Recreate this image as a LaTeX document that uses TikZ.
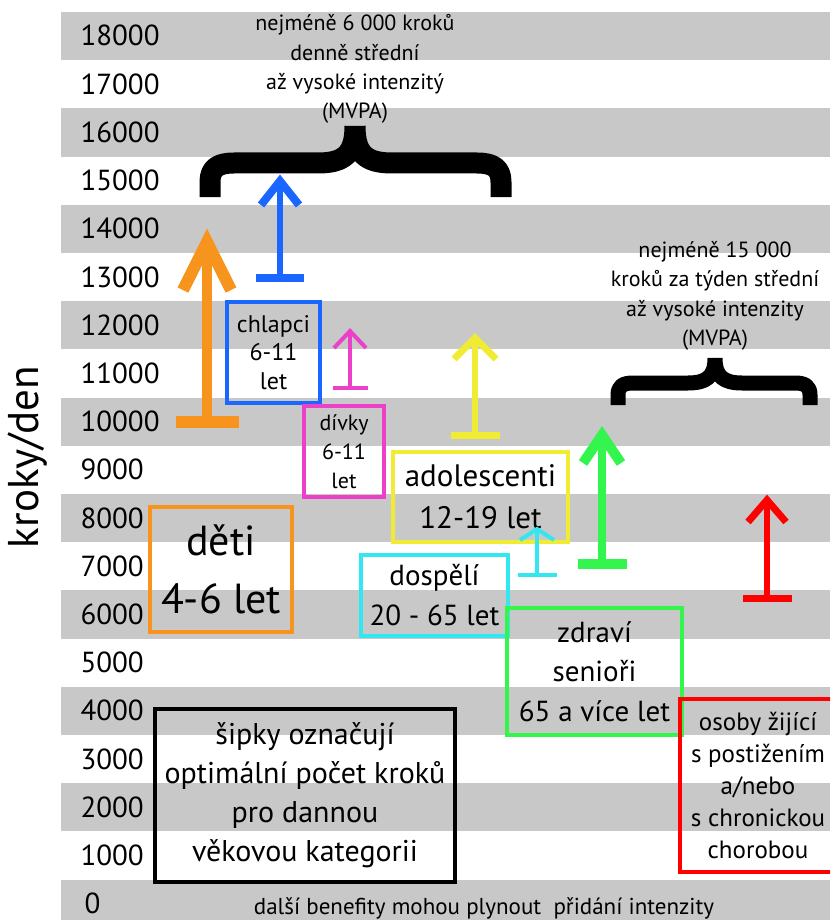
\documentclass[tikz,border=0pt]{standalone}
\usepackage{fontspec}
\setmainfont{PT Sans}
\usetikzlibrary{calc}
\definecolor{stripe}{RGB}{200,200,200}
\definecolor{korange}{RGB}{247,148,29}
\definecolor{kblue}{RGB}{26,102,255}
\definecolor{kmagenta}{RGB}{236,64,200}
\definecolor{kyellow}{RGB}{240,235,51}
\definecolor{kcyan}{RGB}{51,230,240}
\definecolor{kgreen}{RGB}{51,245,77}
\definecolor{kred}{RGB}{255,0,0}
\tikzstyle{group} = [rectangle, draw, line width=4pt, align=center, inner sep=0pt]
\tikzstyle{scale label} = [anchor=base west, font=\fontsize{29}{34}\selectfont]
\tikzstyle{note} = [align=center, font=\fontsize{22}{29.3}\selectfont]
\tikzstyle{brace} = [line width=21pt, line cap=butt, line join=round]
\newcommand{\bandh}{48.2}
% colour, x, bar y, tip y, bar half width, wing dx, wing dy, width
\newcommand{\stepgoal}[8]{%
  \draw[#1, line width=#8pt] (#2-#5,#3) -- (#2+#5,#3);
  \draw[#1, line width=0.85*#8pt] (#2,#3) -- (#2,#4);
  \draw[#1, line width=#8pt, miter limit=20] (#2-#6,#4+#7) -- (#2,#4) -- (#2+#6,#4+#7);
}

\begin{document}
\begin{tikzpicture}[x=1pt, y=-1pt]
  \useasboundingbox (0,0) rectangle (830,920);
  \clip (0,0) rectangle (830,920);

  % stripes and scale
  \foreach \i in {0,...,18} {
    \pgfmathtruncatemacro{\k}{18-\i}
    \ifodd\i\else
      \fill[stripe] (61,12+\bandh*\i) rectangle (830,12+\bandh*\i+\bandh);
    \fi
    \node[scale label] (lab\i) at (77,46+\bandh*\i) {\ifnum\k=0 \hspace{4pt}0\else\k000\fi};
  }

  \node[rotate=90, font=\fontsize{43}{50}\selectfont] (axis) at (28,457) {kroky/den};

  % braces with notes
  \draw[brace] (210,197) -- (210,182) .. controls (210,168) and (218,163) .. (234,163) -- (318,163) .. controls (344,163) and (355,154) .. (355,126)
               (501,197) -- (501,182) .. controls (501,168) and (493,163) .. (477,163) -- (392,163) .. controls (366,163) and (355,154) .. (355,126);
  \node[note] (daily) at (355,69) {nejméně 6 000 kroků\\denně střední\\až vysoké intenzitý\\(MVPA)};

  \draw[brace, line width=15pt] (618,405) -- (618,395) .. controls (618,386) and (623,383) .. (633,383) -- (688,383) .. controls (706,383) and (715,377) .. (715,358)
               (810,405) -- (810,395) .. controls (810,386) and (805,383) .. (795,383) -- (742,383) .. controls (724,383) and (715,377) .. (715,358);
  \node[note] (weekly) at (715,296) {nejméně 15 000\\kroků za týden střední\\až vysoké intenzity\\(MVPA)};

  % groups
  \node[group, draw=korange, minimum width=142pt, minimum height=125pt, font=\fontsize{42}{58}\selectfont] (deti) at (221,569.5) {děti\\4-6 let};
  \node[group, draw=kblue, minimum width=93pt, minimum height=101pt, font=\fontsize{24}{28.5}\selectfont] (chlapci) at (273.5,352.5) {chlapci\\6-11\\let};
  \node[group, draw=kmagenta, minimum width=80pt, minimum height=91pt, font=\fontsize{22}{29}\selectfont] (divky) at (344,451.5) {dívky\\6-11\\let};
  \node[group, draw=kyellow, minimum width=175pt, minimum height=90pt, font=\fontsize{31}{42}\selectfont] (adol) at (480.5,497) {adolescenti\\12-19 let};
  \node[group, draw=kcyan, minimum width=147pt, minimum height=81pt, font=\fontsize{29}{40}\selectfont] (dospeli) at (434.5,595.5) {dospělí\\20 - 65 let};
  \node[group, draw=kgreen, minimum width=175pt, minimum height=127pt, font=\fontsize{29}{39.5}\selectfont] (seniori) at (594.5,671.5) {zdraví\\senioři\\65 a více let};
  \node[group, draw=kred, minimum width=156pt, minimum height=173pt, font=\fontsize{25}{32}\selectfont] (postizeni) at (758,785.5) {osoby žijící\\s postižením\\a/nebo\\s chronickou\\chorobou};
  \node[group, draw=black, minimum width=300pt, minimum height=173pt, font=\fontsize{30}{39}\selectfont] (legend) at (305,795) {šipky označují\\optimální počet kroků\\pro dannou\\věkovou kategorii};

  \node[anchor=base, font=\fontsize{23}{27}\selectfont] (benefit) at (484,914) {další benefity mohou plynout\ \ přidání intenzity};

  % step goals
  \stepgoal{korange}{207}{422}{242}{31.5}{24}{48}{12}
  \stepgoal{kblue}{280}{278}{181}{24}{19}{24}{8}
  \stepgoal{kmagenta}{350}{388}{331}{17.5}{16}{17}{4}
  \stepgoal{kyellow}{475}{435}{338}{24.5}{21}{21}{7}
  \stepgoal{kcyan}{537}{575}{529}{19.5}{17}{11}{4}
  \stepgoal{kgreen}{602}{564}{435}{24.5}{19}{28}{10}
  \stepgoal{kred}{767}{598}{500}{24.5}{19}{22}{7}

\end{tikzpicture}
\end{document}
